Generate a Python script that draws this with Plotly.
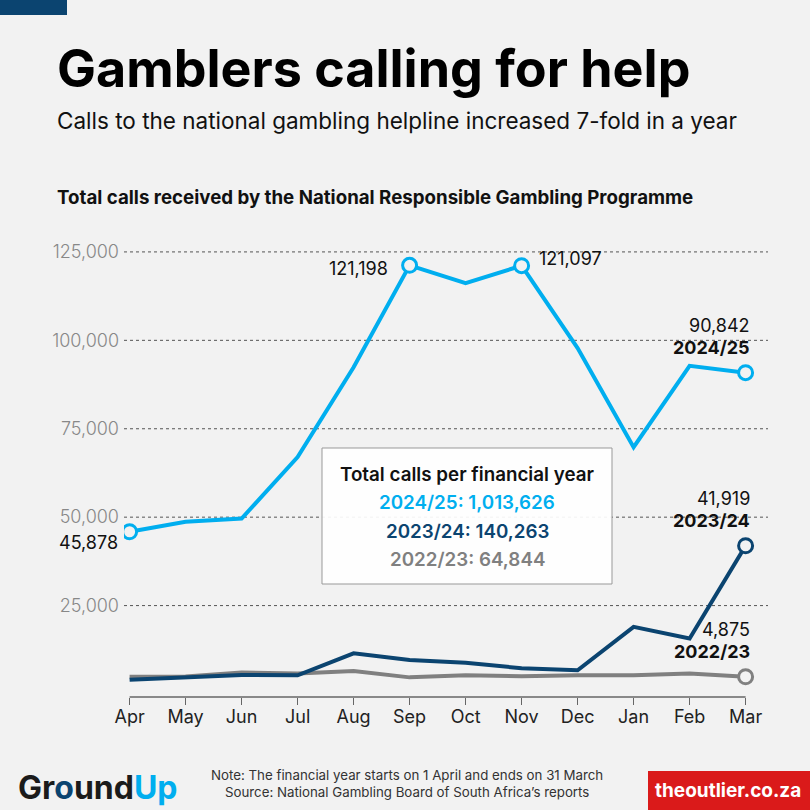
import plotly.graph_objects as go

months = ['Apr', 'May', 'Jun', 'Jul', 'Aug', 'Sep', 'Oct', 'Nov', 'Dec', 'Jan', 'Feb', 'Mar']
fy2425 = [45878, 48700, 49600, 67000, 92400, 121198, 116200, 121097, 97800, 69800, 92800, 90842]
fy2324 = [4000, 4700, 5400, 5300, 11500, 9600, 8800, 7300, 6700, 19000, 15700, 41919]
fy2223 = [4900, 4950, 6100, 5800, 6500, 4700, 5300, 5000, 5300, 5300, 5800, 4875]
yticks = [25000, 50000, 75000, 100000, 125000]
totals = {'2024/25': '1,013,626', '2023/24': '140,263', '2022/23': '64,844'}

LIGHT = '#00AEEF'
NAVY = '#0B4470'
GREY = '#808080'
BG = '#F2F2F2'
FONT = 'Inter'

x = list(range(len(months)))

fig = go.Figure()

# gridlines first so the lines sit on top
for v in yticks:
    fig.add_shape(type='line', xref='paper', yref='y', x0=0, x1=1, y0=v, y1=v,
                  line=dict(color='#555555', width=1, dash='3px,3px'), layer='below')

# x axis line only between Apr and Mar
fig.add_shape(type='line', xref='x', yref='paper', x0=0, x1=11, y0=0, y1=0,
              line=dict(color='#666666', width=1.5))

series = [(fy2223, GREY, '2022/23'), (fy2324, NAVY, '2023/24'), (fy2425, LIGHT, '2024/25')]
for vals, col, name in series:
    fig.add_trace(go.Scatter(x=x, y=vals, mode='lines', line=dict(color=col, width=4),
                             name=name, hoverinfo='skip'))

# highlighted points
marks = [
    (fy2425, LIGHT, [0, 5, 7, 11]),
    (fy2324, NAVY, [11]),
    (fy2223, GREY, [11]),
]
for vals, col, idx in marks:
    fig.add_trace(go.Scatter(x=[x[i] for i in idx], y=[vals[i] for i in idx], mode='markers',
                             marker=dict(size=14, color=BG, line=dict(color=col, width=3)),
                             hoverinfo='skip'))

lab = dict(family=FONT, size=18, color='#111111')
labb = dict(family=FONT, size=18, color='#111111', weight='bold')


def fmt(v):
    return f'{v:,}'


fig.add_annotation(x=0, y=fy2425[0], text=fmt(fy2425[0]), showarrow=False,
                   xanchor='right', yanchor='middle', xshift=-10, yshift=-11, font=lab)
fig.add_annotation(x=5, y=fy2425[5], text=fmt(fy2425[5]), showarrow=False,
                   xanchor='right', yanchor='middle', xshift=-20, yshift=-3, font=lab)
fig.add_annotation(x=7, y=fy2425[7], text=fmt(fy2425[7]), showarrow=False,
                   xanchor='left', yanchor='middle', xshift=15, yshift=7, font=lab)

ends = [(fy2425, '2024/25'), (fy2324, '2023/24'), (fy2223, '2022/23')]
for vals, name in ends:
    fig.add_annotation(x=11, y=vals[11], text=fmt(vals[11]), showarrow=False,
                       xanchor='right', yanchor='bottom', xshift=6, yshift=35, font=lab)
    fig.add_annotation(x=11, y=vals[11], text=name, showarrow=False,
                       xanchor='right', yanchor='bottom', xshift=6, yshift=13, font=labb)

# totals box
fig.add_shape(type='rect', xref='paper', yref='paper', x0=(322 - 124) / 644, x1=(612 - 124) / 644,
              y0=(697 - 584) / 461, y1=(697 - 448) / 461,
              fillcolor='rgba(255,255,255,0.92)', line=dict(color='#999999', width=1))
box_lines = [
    ('Total calls per financial year', '#111111', 474),
    (f"2024/25: {totals['2024/25']}", LIGHT, 503),
    (f"2023/24: {totals['2023/24']}", NAVY, 531),
    (f"2022/23: {totals['2022/23']}", GREY, 559),
]
for txt, col, py in box_lines:
    fig.add_annotation(xref='paper', yref='paper', x=(467 - 124) / 644, y=(697 - py) / 461,
                       text=txt, showarrow=False, xanchor='center', yanchor='middle',
                       font=dict(family=FONT, size=18.8, color=col, weight=600))

# titles
fig.add_annotation(xref='paper', yref='paper', x=(55 - 124) / 644, y=(697 - 68) / 461,
                   text='<b>Gamblers calling for help</b>', showarrow=False,
                   xanchor='left', yanchor='middle', font=dict(family=FONT, size=52, color='#000000'))
fig.add_annotation(xref='paper', yref='paper', x=(55 - 124) / 644, y=(697 - 120) / 461,
                   text='Calls to the national gambling helpline increased 7-fold in a year',
                   showarrow=False, xanchor='left', yanchor='middle',
                   font=dict(family=FONT, size=22.5, color='#111111'))
fig.add_annotation(xref='paper', yref='paper', x=(55 - 124) / 644, y=(697 - 198) / 461,
                   text='<b>Total calls received by the National Responsible Gambling Programme</b>',
                   showarrow=False, xanchor='left', yanchor='middle',
                   font=dict(family=FONT, size=18.7, color='#111111'))

# footer
fig.add_annotation(xref='paper', yref='paper', x=(407 - 124) / 644, y=(697 - 783) / 461,
                   text='Note: The financial year starts on 1 April and ends on 31 March<br>'
                        'Source: National Gambling Board of South Africa\u2019s reports',
                   showarrow=False, xanchor='center', yanchor='middle', align='center',
                   font=dict(family=FONT, size=13.3, color='#333333'))
fig.add_annotation(xref='paper', yref='paper', x=(16 - 124) / 644, y=(697 - 787) / 461,
                   text="<b>Gr<span style='color:#0B4470'>o</span>und<span style='color:#00AEEF'>Up</span></b>",
                   showarrow=False, xanchor='left', yanchor='middle',
                   font=dict(family=FONT, size=32, color='#1B1B1B'))
fig.add_shape(type='rect', xref='paper', yref='paper', x0=(648 - 124) / 644, x1=(812 - 124) / 644,
              y0=(697 - 812) / 461, y1=(697 - 771) / 461, fillcolor='#DA1A1A', line=dict(width=0))
fig.add_annotation(xref='paper', yref='paper', x=(728 - 124) / 644, y=(697 - 790) / 461,
                   text='<b>theoutlier.co.za</b>', showarrow=False, xanchor='center', yanchor='middle',
                   font=dict(family=FONT, size=19, color='#FFFFFF'))
fig.add_shape(type='rect', xref='paper', yref='paper', x0=(0 - 124) / 644, x1=(67 - 124) / 644,
              y0=(697 - 15) / 461, y1=(697 + 2) / 461, fillcolor=NAVY, line=dict(width=0))

fig.update_layout(
    width=810, height=810,
    margin=dict(l=124, r=42, t=236, b=113),
    paper_bgcolor=BG, plot_bgcolor=BG,
    showlegend=False,
    xaxis=dict(range=[-0.1, 11.4], tickvals=x, ticktext=months, showgrid=False, zeroline=False,
               showline=False, ticks='outside', ticklen=7, tickcolor='#666666', tickwidth=1,
               ticklabelstandoff=-4,
               tickfont=dict(family=FONT, size=18, color='#222222')),
    yaxis=dict(range=[-850, 129500], tickvals=yticks, ticktext=[fmt(v) for v in yticks],
               showgrid=False, zeroline=False, showline=False, ticks='',
               ticklabelstandoff=4,
               tickfont=dict(family=FONT, size=18, color='#888888', weight=300)),
)

fig.write_html('out.html', config={'displayModeBar': False},
               post_script="document.body.style.margin='0';document.body.style.overflow='hidden';")
